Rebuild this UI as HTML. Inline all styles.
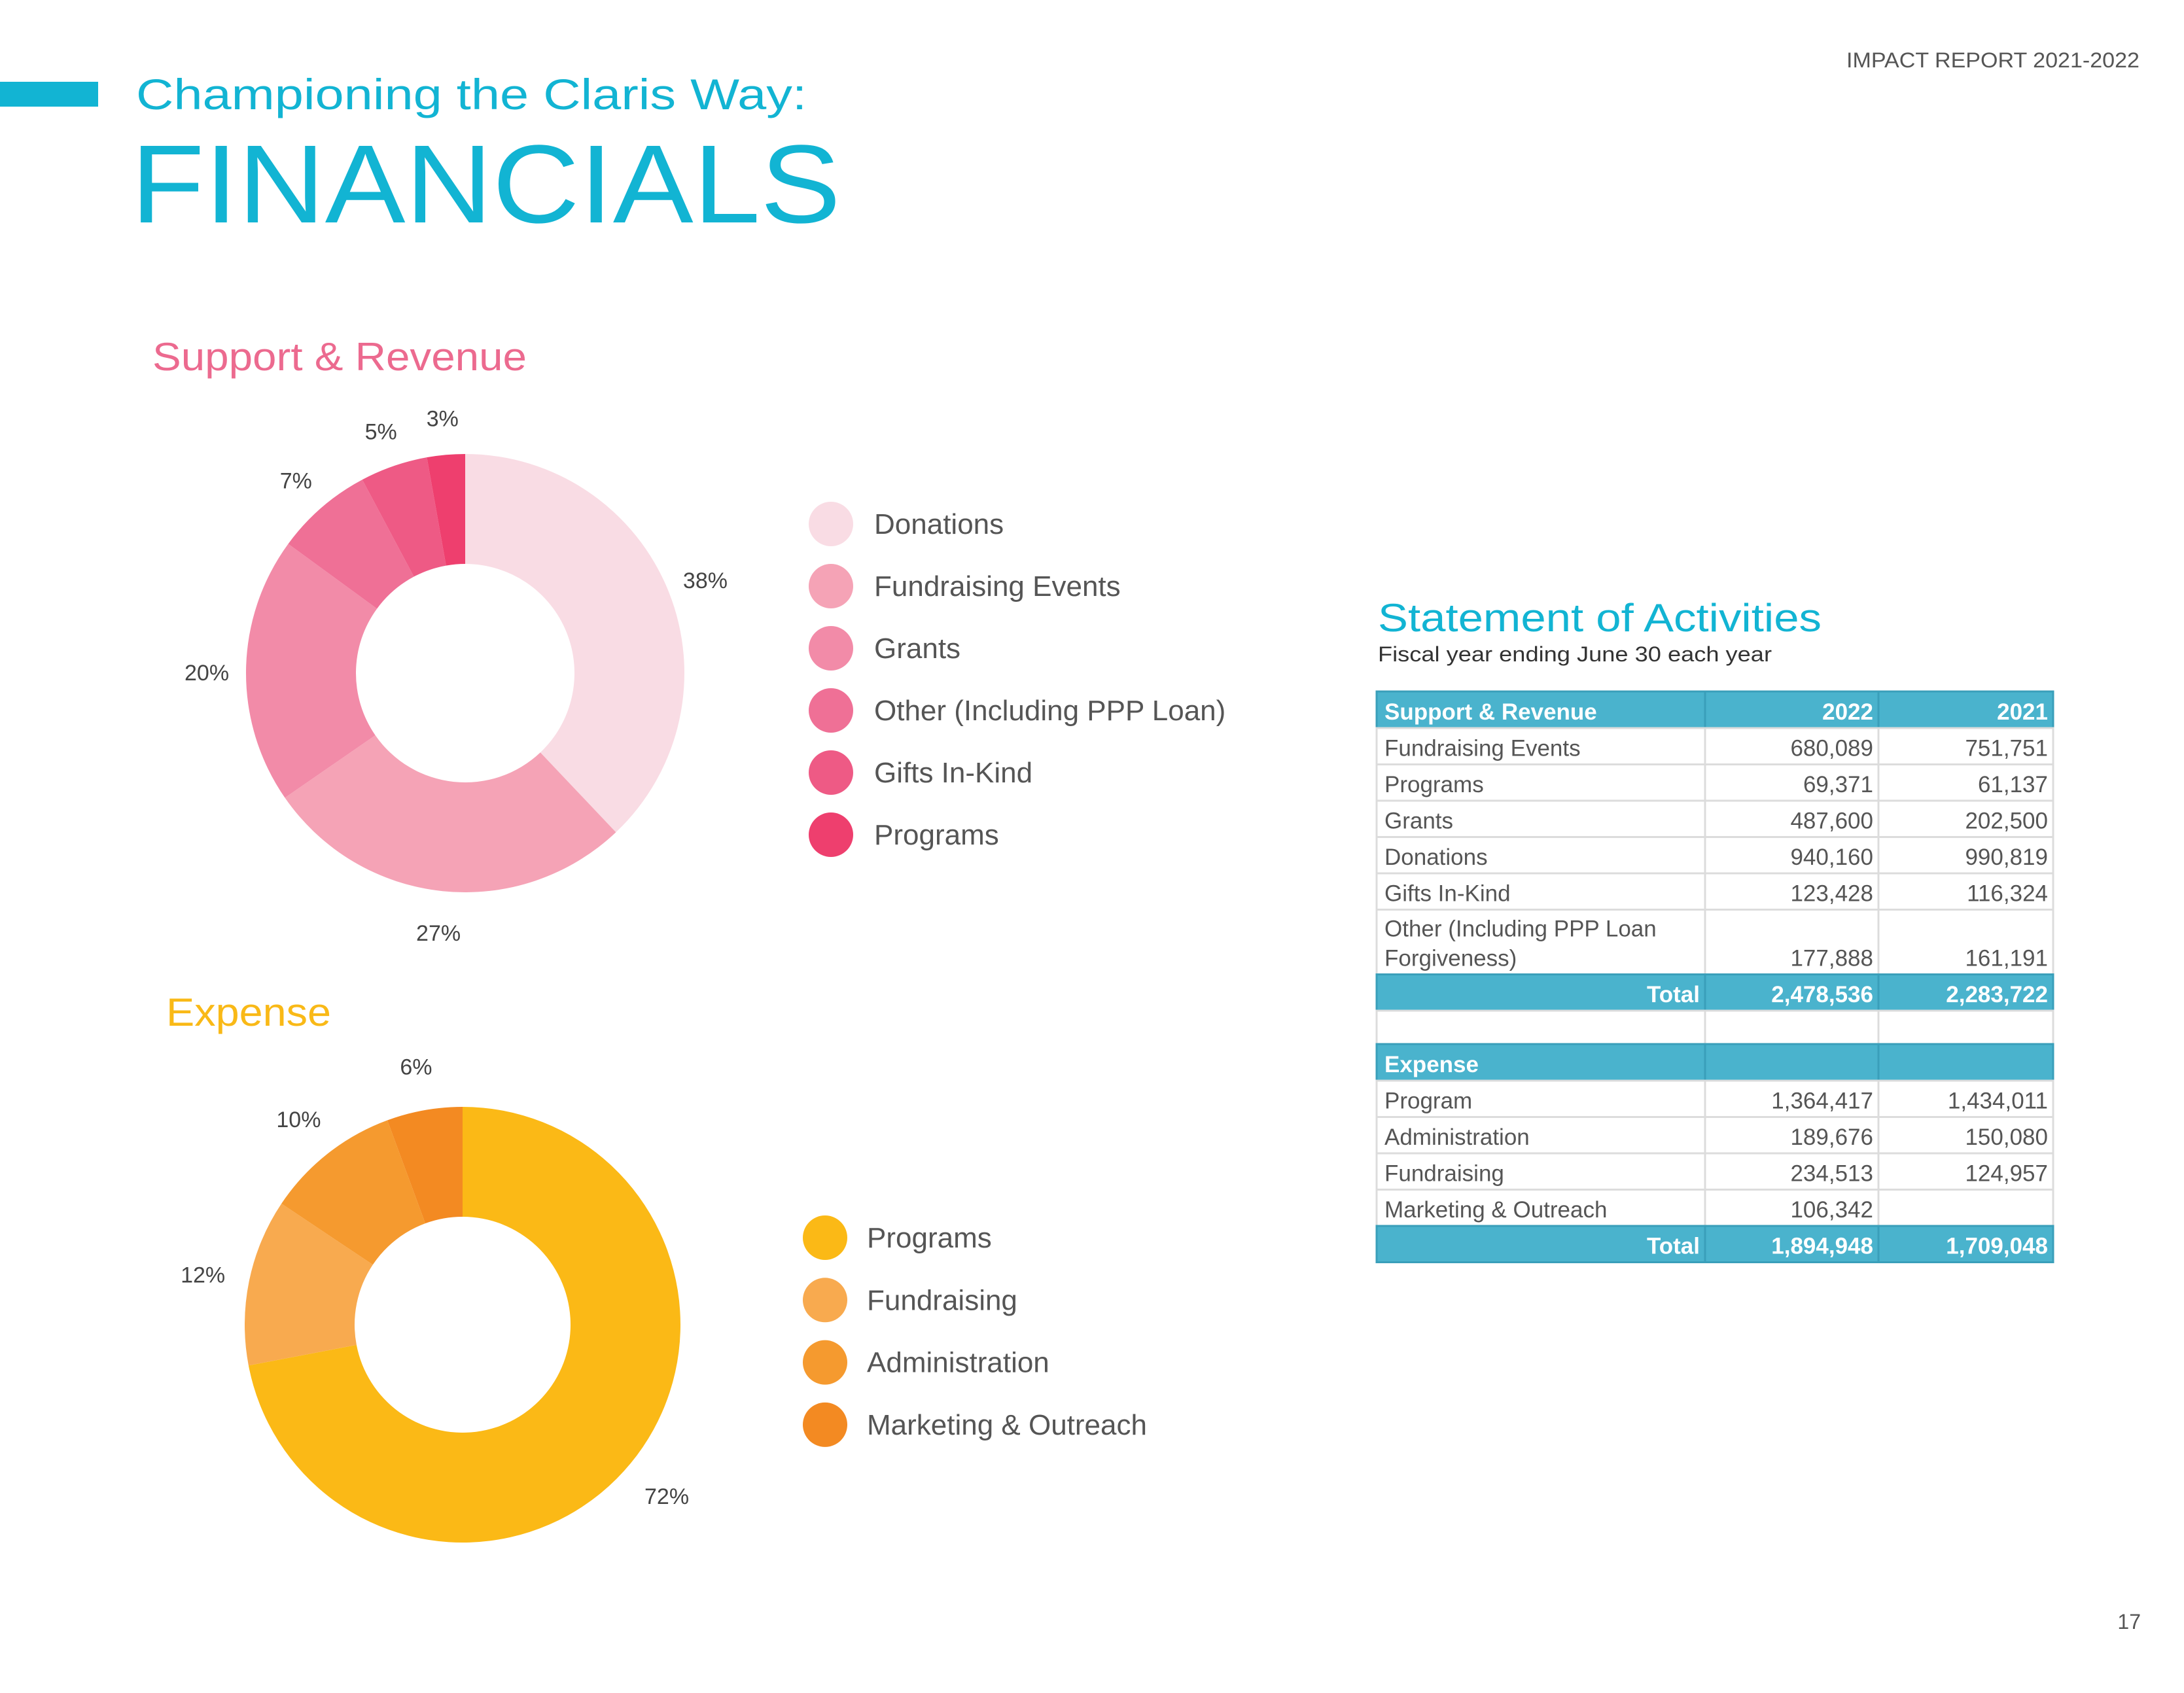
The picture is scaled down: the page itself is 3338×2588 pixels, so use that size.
<!DOCTYPE html>
<html><head><meta charset="utf-8"><style>
html,body{margin:0;padding:0;background:#fff;}
svg{display:block;font-family:"Liberation Sans",sans-serif;}
</style></head><body>
<svg id="page" width="3338" height="2588" viewBox="0 0 3338 2588" xmlns="http://www.w3.org/2000/svg">
<rect x="0" y="125" width="150" height="38" fill="#12b4d3"/>
<text x="208" y="167" font-size="66" fill="#12b4d3" textLength="1025" lengthAdjust="spacingAndGlyphs">Championing the Claris Way:</text>
<text x="200" y="340" font-size="170" fill="#12b4d3" textLength="1085" lengthAdjust="spacingAndGlyphs">FINANCIALS</text>
<text x="3270" y="103" font-size="32" fill="#555" text-anchor="end" textLength="448" lengthAdjust="spacingAndGlyphs">IMPACT REPORT 2021-2022</text>
<text x="233" y="566" font-size="60" fill="#ec6a8f" textLength="572" lengthAdjust="spacingAndGlyphs">Support &amp; Revenue</text>
<text x="254" y="1568" font-size="60" fill="#f9b917" textLength="252" lengthAdjust="spacingAndGlyphs">Expense</text>
<text x="2106" y="965" font-size="60" fill="#12b4d3" textLength="678" lengthAdjust="spacingAndGlyphs">Statement of Activities</text>
<text x="2106" y="1011" font-size="32" fill="#333" textLength="602" lengthAdjust="spacingAndGlyphs">Fiscal year ending June 30 each year</text>
<text x="3272" y="2490" font-size="32" fill="#555" text-anchor="end">17</text>
<g id="charts"></g>
<g id="table"></g>
</svg>
<script>
const revCats = ["Donations","Fundraising Events","Grants","Other (Including PPP Loan)","Gifts In-Kind","Programs"];
const revValues = [940160,680089,487600,177888,123428,69371];
const revColors = ["#f9dce4","#f5a3b6","#f28ba8","#ef7096","#ee5a85","#ee3f6e"];
const expCats = ["Programs","Fundraising","Administration","Marketing & Outreach"];
const expValues = [1364417,234513,189676,106342];
const expColors = ["#fbb916","#f8aa4f","#f59a2f","#f38a22"];

const tableRows = [
 ["Support & Revenue","2022","2021","head"],
 ["Fundraising Events","680,089","751,751",""],
 ["Programs","69,371","61,137",""],
 ["Grants","487,600","202,500",""],
 ["Donations","940,160","990,819",""],
 ["Gifts In-Kind","123,428","116,324",""],
 ["Other (Including PPP Loan|Forgiveness)","177,888","161,191","tall"],
 ["Total","2,478,536","2,283,722","total"],
 ["","","","blank"],
 ["Expense","","","head"],
 ["Program","1,364,417","1,434,011",""],
 ["Administration","189,676","150,080",""],
 ["Fundraising","234,513","124,957",""],
 ["Marketing & Outreach","106,342","",""],
 ["Total","1,894,948","1,709,048","total"]
];

const NS="http://www.w3.org/2000/svg";
function mk(tag,attrs,parent){const e=document.createElementNS(NS,tag);for(const k in attrs)e.setAttribute(k,attrs[k]);parent.appendChild(e);return e;}
const charts=document.getElementById('charts');

function donut(cats,vals,colors,cx,cy,R,r,labelR,legX,legY0,legStep,legTX,name){
  const tot=vals.reduce((a,b)=>a+b,0);
  const g=mk('g',{},charts);
  
  
  let a0=0;
  vals.forEach((v,i)=>{
    const a1=a0+v/tot*2*Math.PI;
    const p=(a,rad)=>[cx+rad*Math.sin(a),cy-rad*Math.cos(a)];
    const large=(a1-a0)>Math.PI?1:0;
    const [x0,y0]=p(a0,R),[x1,y1]=p(a1,R),[x2,y2]=p(a1,r),[x3,y3]=p(a0,r);
    const path=mk('path',{d:`M${x0},${y0}A${R},${R} 0 ${large} 1 ${x1},${y1}L${x2},${y2}A${r},${r} 0 ${large} 0 ${x3},${y3}Z`,fill:colors[i]},g);
    
    
    const am=(a0+a1)/2;const [lx,ly]=p(am,labelR);
    const t=mk('text',{x:lx,y:ly+16,'font-size':34,fill:'#444','text-anchor':'middle'},g);
    t.textContent=Math.round(v/tot*100)+'%';
    
    
    a0=a1;
  });
  cats.forEach((c,i)=>{
    const lg=mk('g',{},charts);
    
    
    const cy2=legY0+i*legStep;
    mk('circle',{cx:legX,cy:cy2,r:34,fill:colors[i]},lg);
    const t=mk('text',{x:legTX,y:cy2+15,'font-size':44,fill:'#555'},lg);
    t.textContent=c;
  });
}
donut(revCats,revValues,revColors,711,1029,335,167,395,1270,801,95,1336,'revenue');
donut(expCats,expValues,expColors,707,2025,333,165,405,1261,1892,95.3,1325,'expense');

const tg=document.getElementById('table');


const colX=[2104,2606,2871,3138];
const rowH={"":55.5,"head":56,"tall":99,"total":55.5,"blank":51};
let y=1057;
tableRows.forEach((row)=>{
  const kind=row[3];const h=rowH[kind]||55.5;
  const rg=mk('g',{},tg);
  
  
  const filled=(kind==='head'||kind==='total');
  mk('rect',{x:colX[0],y:y,width:colX[3]-colX[0],height:h,fill:filled?'#4ab3cd':'#fff',stroke:filled?'#3a9fba':'#dcdcdc','stroke-width':3},rg);
  for(let c=1;c<3;c++) mk('line',{x1:colX[c],y1:y,x2:colX[c],y2:y+h,stroke:filled?'#3a9fba':'#dcdcdc','stroke-width':3},rg);
  const fill=filled?'#fff':'#555';const fw=filled?'bold':'normal';
  const base=y+h-13;
  const lab=row[0].split('|');
  if(kind==='total'){
    const t=mk('text',{x:colX[1]-8,y:base,'font-size':35,fill:fill,'font-weight':fw,'text-anchor':'end'},rg);t.textContent=lab[0];
  } else {
    lab.forEach((l,j)=>{const t=mk('text',{x:colX[0]+12,y:base-(lab.length-1-j)*45,'font-size':35,fill:fill,'font-weight':fw},rg);t.textContent=l;});
  }
  for(let c=1;c<3;c++){
    const t=mk('text',{x:colX[c+1]-8,y:base,'font-size':35,fill:fill,'font-weight':fw,'text-anchor':'end'},rg);
    t.textContent=row[c];
  }
  y+=h;
});
</script>
</body></html>
